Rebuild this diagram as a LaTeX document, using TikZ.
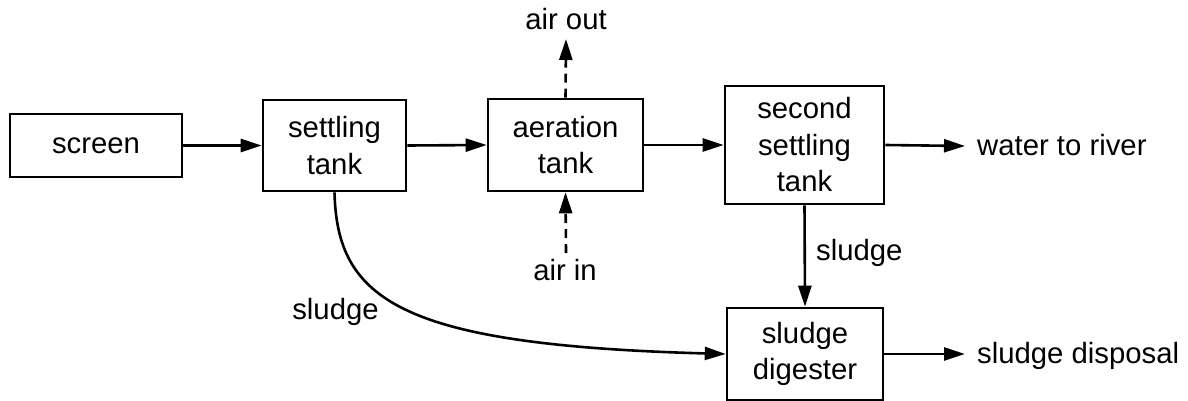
\documentclass[tikz,border=0pt]{standalone}
\usepackage{fontspec}
\setmainfont{Liberation Sans}
\usetikzlibrary{arrows.meta}
\begin{document}
\begin{tikzpicture}[x=1pt,y=-1pt,
  box/.style={draw,line width=2.6pt,rectangle,inner sep=0pt,align=center,font=\fontsize{29.3}{36.5}\selectfont},
  lbl/.style={inner sep=0pt,font=\fontsize{29.3}{36.5}\selectfont},
  flow/.style={line width=2.6pt,-{Triangle[length=21pt,width=13pt]}},
  dflow/.style={flow,dash pattern=on 9pt off 6pt}]
\useasboundingbox (0,0) rectangle (1188,401);
\node[box,minimum width=172pt,minimum height=63pt] (screen) at (96,145.5) {screen};
\node[box,minimum width=143pt,minimum height=91pt] (settle) at (334.5,145.5) {settling\\tank};
\node[box,minimum width=155pt,minimum height=92pt] (aer) at (565.5,145) {aeration\\tank};
\node[box,minimum width=159pt,minimum height=118pt] (second) at (804.5,145) {second\\settling\\tank};
\node[box,minimum width=156pt,minimum height=92pt] (dig) at (805,354) {sludge\\digester};
\coordinate (aotip) at (566,39);
\coordinate (aistart) at (566,253);
\coordinate (wtip) at (965,146);
\coordinate (dtip) at (965,354);
\node[lbl,anchor=base] (airout) at (566,30) {air out};
\node[lbl,anchor=base] (airin) at (565,280) {air in};
\node[lbl,anchor=base] (sl1) at (335.5,319) {sludge};
\node[lbl,anchor=base west] (sl2) at (816,260) {sludge};
\node[lbl,anchor=base west] (water) at (977,155) {water to river};
\node[lbl,anchor=base west] (disp) at (977,363) {sludge disposal};
\draw[flow] (screen.east) -- (settle.west);
\draw[flow] (settle.east) -- (aer.west);
\draw[flow] (aer.east) -- (second.west);
\draw[flow] (second.east) -- (wtip);
\draw[flow] (dig.east) -- (dtip);
\draw[flow] (second.south) -- (dig.north);
\draw[dflow] (aer.north) -- (aotip);
\draw[dflow] (aistart) -- (aer.south);
\draw[flow] (settle.south) .. controls (337,300) and (400,345) .. (dig.west);
\end{tikzpicture}
\end{document}
